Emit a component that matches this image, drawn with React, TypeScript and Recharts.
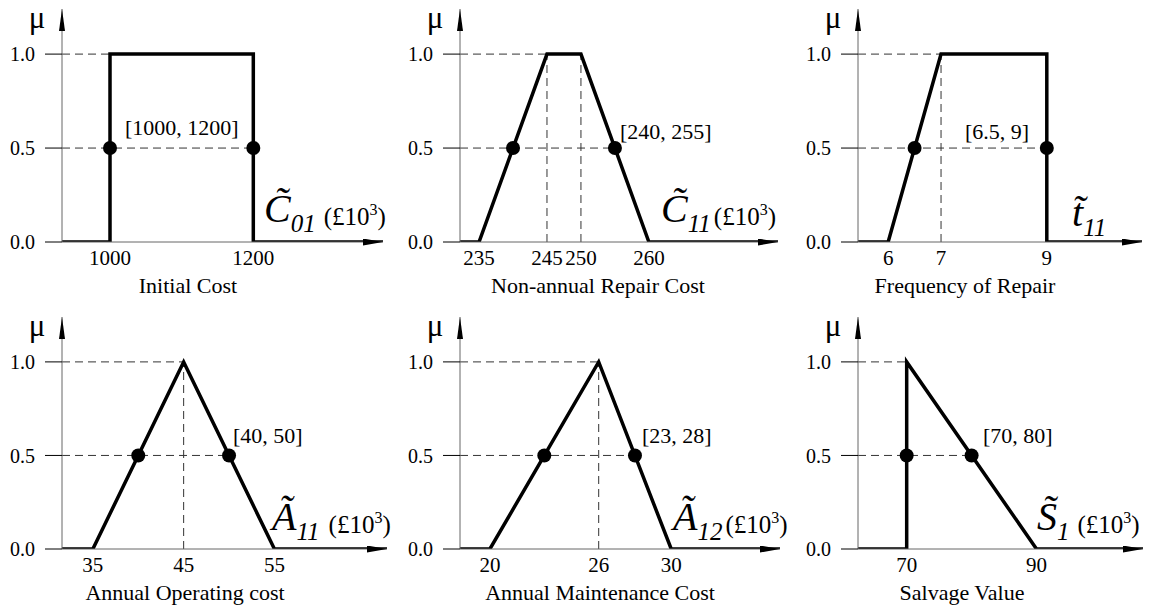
import React from "react"
import {
  ComposedChart,
  Line,
  XAxis,
  YAxis,
  ReferenceLine,
  ReferenceDot,
} from "recharts"

const FONT = '"Liberation Serif", "Times New Roman", serif'

type Pt = { x: number; y: number }

// membership function breakpoints (x, mu)
const initialCost: Pt[] = [
  { x: 1000, y: 0 },
  { x: 1000, y: 1 },
  { x: 1200, y: 1 },
  { x: 1200, y: 0 },
]
const repairCost: Pt[] = [
  { x: 235, y: 0 },
  { x: 245, y: 1 },
  { x: 250, y: 1 },
  { x: 260, y: 0 },
]
const repairFreq: Pt[] = [
  { x: 6, y: 0 },
  { x: 7, y: 1 },
  { x: 9, y: 1 },
  { x: 9, y: 0 },
]
const operatingCost: Pt[] = [
  { x: 35, y: 0 },
  { x: 45, y: 1 },
  { x: 55, y: 0 },
]
const maintenanceCost: Pt[] = [
  { x: 20, y: 0 },
  { x: 26, y: 1 },
  { x: 30, y: 0 },
]
const salvageValue: Pt[] = [
  { x: 70, y: 0 },
  { x: 70, y: 1 },
  { x: 90, y: 0 },
]

// alpha = 0.5 cuts
const initialCostCut = [1000, 1200]
const repairCostCut = [240, 255]
const repairFreqCut = [6.5, 9]
const operatingCostCut = [40, 50]
const maintenanceCostCut = [23, 28]
const salvageValueCut = [70, 80]

// x tick labels
const initialCostTicks = [1000, 1200]
const repairCostTicks = [235, 245, 250, 260]
const repairFreqTicks = [6, 7, 9]
const operatingCostTicks = [35, 45, 55]
const maintenanceCostTicks = [20, 26, 30]
const salvageValueTicks = [70, 90]

// x axis ranges (axis origin .. arrow tip)
const initialCostDomain = [933, 1381]
const repairCostDomain = [232.2, 279]
const repairFreqDomain = [5.43, 10.8]
const operatingCostDomain = [31.6, 67.4]
const maintenanceCostDomain = [18.35, 36]
const salvageValueDomain = [62.5, 106.4]

const muTicks = [0, 0.5, 1]
const muDomain = [0, 1.24]

type Box = { left: number; top: number; width: number; height: number; mt: number; mr: number }
type Txt = {
  cap: number
  letter: number
  letterY: number
  unitDx: number
  lab: [number, number]
}
type PanelDef = {
  key: string
  pts: Pt[]
  cut: number[]
  ticks: number[]
  domain: number[]
  caption: string
  letter: string
  sub: string
  unit: boolean
  box: Box
  txt: Txt
}

const TOP = { top: 0, height: 300, mt: 9 }
const BOT = { top: 300, height: 307, mt: 17 }

const panels: PanelDef[] = [
  {
    key: "c01", pts: initialCost, cut: initialCostCut, ticks: initialCostTicks, domain: initialCostDomain,
    caption: "Initial Cost", letter: "C", sub: "01", unit: true,
    box: { left: 0, width: 400, mr: 17, ...TOP },
    txt: { cap: 126, letter: 202, letterY: -20, unitDx: 8, lab: [63, -107] },
  },
  {
    key: "c11", pts: repairCost, cut: repairCostCut, ticks: repairCostTicks, domain: repairCostDomain,
    caption: "Non-annual Repair Cost", letter: "C", sub: "11", unit: true,
    box: { left: 398, width: 400, mr: 20, ...TOP },
    txt: { cap: 138, letter: 201, letterY: -20, unitDx: 3, lab: [160, -103] },
  },
  {
    key: "t11", pts: repairFreq, cut: repairFreqCut, ticks: repairFreqTicks, domain: repairFreqDomain,
    caption: "Frequency of Repair", letter: "t", sub: "11", unit: false,
    box: { left: 796, width: 363, mr: 17, ...TOP },
    txt: { cap: 107, letter: 214, letterY: -16, unitDx: 0, lab: [107, -103] },
  },
  {
    key: "a11", pts: operatingCost, cut: operatingCostCut, ticks: operatingCostTicks, domain: operatingCostDomain,
    caption: "Annual Operating cost", letter: "A", sub: "11", unit: true,
    box: { left: 0, width: 400, mr: 13, ...BOT },
    txt: { cap: 123, letter: 210, letterY: -19, unitDx: 9, lab: [171, -106] },
  },
  {
    key: "a12", pts: maintenanceCost, cut: maintenanceCostCut, ticks: maintenanceCostTicks, domain: maintenanceCostDomain,
    caption: "Annual Maintenance Cost", letter: "A", sub: "12", unit: true,
    box: { left: 398, width: 400, mr: 18, ...BOT },
    txt: { cap: 140, letter: 213, letterY: -19, unitDx: 3, lab: [182, -106] },
  },
  {
    key: "s1", pts: salvageValue, cut: salvageValueCut, ticks: salvageValueTicks, domain: salvageValueDomain,
    caption: "Salvage Value", letter: "S", sub: "1", unit: true,
    box: { left: 796, width: 363, mr: 16, ...BOT },
    txt: { cap: 104, letter: 179, letterY: -19, unitDx: 8, lab: [125, -106] },
  },
]

const xLabel = (p: PanelDef) => (props: any) => {
  const vb = props.viewBox || {}
  const ox = vb.x
  const oy = vb.y
  const t = p.txt
  const ly = oy + t.letterY
  return (
    <g fill="#000" style={{ fontFamily: FONT }}>
      <text x={ox + t.cap} y={oy + 51} textAnchor="middle" fontSize={22}>
        {p.caption}
      </text>
      <text x={ox + t.lab[0]} y={oy + t.lab[1]} fontSize={22}>
        {`[${p.cut[0]}, ${p.cut[1]}]`}
      </text>
      {/* fuzzy variable symbol: letter with tilde, subscript, unit */}
      <text x={ox + t.letter} y={ly} fontSize={25}>
        <tspan fontSize={40} fontStyle="italic">
          {p.letter + "\u0303"}
        </tspan>
        <tspan dy={10} fontStyle="italic">
          {p.sub}
        </tspan>
        {p.unit && (
          <>
            <tspan dx={t.unitDx} dy={-7}>(£10</tspan>
            <tspan dy={-10} fontSize={16}>3</tspan>
            <tspan dy={10}>)</tspan>
          </>
        )}
      </text>
    </g>
  )
}

const muLabel = (props: any) => {
  const vb = props.viewBox || {}
  return (
    <text x={vb.x + vb.width - 25} y={vb.y + 19} textAnchor="middle" fontSize={31} fill="#000" style={{ fontFamily: FONT }}>
      μ
    </text>
  )
}

function Panel({ p }: { p: PanelDef }) {
  const [x0, x1] = p.domain
  const lineData = [{ x: x0, y: 0 }, ...p.pts, { x: x1, y: 0 }]
  const core = p.pts.filter((pt) => pt.y === 1)
  const vdash = core.filter((c) => !p.pts.some((o) => o.x === c.x && o.y === 0))
  const b = p.box
  const dash = { stroke: "#333", strokeWidth: 1, strokeDasharray: "8 5" }

  return (
    <div style={{ position: "absolute", left: b.left, top: b.top }}>
      <ComposedChart
        width={b.width}
        height={b.height}
        margin={{ top: b.mt, right: b.mr, left: 0, bottom: 0 }}
      >
        <XAxis
          dataKey="x"
          type="number"
          domain={p.domain}
          ticks={p.ticks}
          interval={0}
          allowDataOverflow
          height={58}
          axisLine={{ stroke: "#666", strokeWidth: 1, markerEnd: "url(#arrowX)" }}
          tickLine={false}
          tickSize={0}
          tickMargin={8}
          tick={{ fill: "#000", fontSize: 21 }}
          label={xLabel(p)}
        />
        <YAxis
          type="number"
          domain={muDomain}
          ticks={muTicks}
          interval={0}
          allowDataOverflow
          width={62}
          axisLine={{ stroke: "#666", strokeWidth: 1, markerStart: "url(#arrowY)" }}
          tickLine={{ stroke: "#000" }}
          tickSize={17}
          tickMargin={10}
          tick={{ fill: "#000", fontSize: 20 }}
          tickFormatter={(v: number) => v.toFixed(1)}
          label={muLabel}
        />
        <ReferenceLine segment={[{ x: x0, y: 1 }, { x: core[0].x, y: 1 }]} {...dash} />
        <ReferenceLine segment={[{ x: x0, y: 0.5 }, { x: p.cut[1], y: 0.5 }]} {...dash} />
        {vdash.map((c) => (
          <ReferenceLine key={c.x} segment={[{ x: c.x, y: 0 }, { x: c.x, y: 1 }]} {...dash} />
        ))}
        <Line
          data={lineData}
          dataKey="y"
          type="linear"
          stroke="#000"
          strokeWidth={3.5}
          dot={false}
          activeDot={false}
          isAnimationActive={false}
        />
        {p.cut.map((c) => (
          <ReferenceDot key={c} x={c} y={0.5} r={7} fill="#000" stroke="none" />
        ))}
      </ComposedChart>
    </div>
  )
}

export default function App() {
  return (
    <div
      style={{
        position: "absolute",
        left: 0,
        top: 0,
        width: 1159,
        height: 608,
        overflow: "hidden",
        background: "#fff",
        fontFamily: FONT,
      }}
    >
      <svg width={0} height={0} style={{ position: "absolute" }}>
        <defs>
          <marker id="arrowX" viewBox="0 0 20 7" markerWidth={20} markerHeight={7} refX={20} refY={3.5}
            orient="auto-start-reverse" markerUnits="userSpaceOnUse">
            <path d="M0,0 L20,3.5 L0,7 Z" fill="#000" />
          </marker>
          <marker id="arrowY" viewBox="0 0 22 6" markerWidth={22} markerHeight={6} refX={22} refY={3}
            orient="auto-start-reverse" markerUnits="userSpaceOnUse">
            <path d="M0,0 L22,3 L0,6 Z" fill="#000" />
          </marker>
        </defs>
      </svg>
      {panels.map((p) => (
        <Panel key={p.key} p={p} />
      ))}
    </div>
  )
}
